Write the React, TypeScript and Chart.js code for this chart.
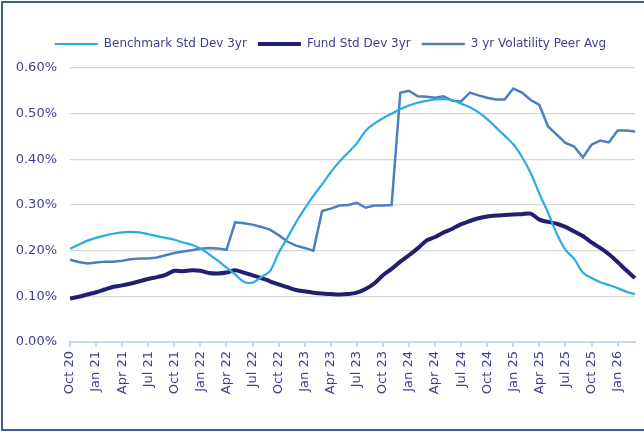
import React, { useEffect, useRef } from 'react';
import { Chart, registerables } from 'chart.js';
Chart.register(...registerables);

const monthLabels: string[] = [
  'Oct 20', 'Nov 20', 'Dec 20',
  'Jan 21', 'Feb 21', 'Mar 21', 'Apr 21', 'May 21', 'Jun 21', 'Jul 21', 'Aug 21', 'Sep 21', 'Oct 21', 'Nov 21', 'Dec 21',
  'Jan 22', 'Feb 22', 'Mar 22', 'Apr 22', 'May 22', 'Jun 22', 'Jul 22', 'Aug 22', 'Sep 22', 'Oct 22', 'Nov 22', 'Dec 22',
  'Jan 23', 'Feb 23', 'Mar 23', 'Apr 23', 'May 23', 'Jun 23', 'Jul 23', 'Aug 23', 'Sep 23', 'Oct 23', 'Nov 23', 'Dec 23',
  'Jan 24', 'Feb 24', 'Mar 24', 'Apr 24', 'May 24', 'Jun 24', 'Jul 24', 'Aug 24', 'Sep 24', 'Oct 24', 'Nov 24', 'Dec 24',
  'Jan 25', 'Feb 25', 'Mar 25', 'Apr 25', 'May 25', 'Jun 25', 'Jul 25', 'Aug 25', 'Sep 25', 'Oct 25', 'Nov 25', 'Dec 25',
  'Jan 26', 'Feb 26', 'Mar 26',
];

const seriesNames: string[] = ['Benchmark Std Dev 3yr', 'Fund Std Dev 3yr', '3 yr Volatility Peer Avg'];

const benchmarkStdDev: number[] = [
  0.204, 0.213, 0.222,
  0.228, 0.233, 0.237, 0.240, 0.241, 0.240, 0.236, 0.232, 0.228, 0.224, 0.218, 0.213,
  0.205, 0.192, 0.178, 0.163, 0.148, 0.132, 0.130, 0.142, 0.155, 0.195, 0.228, 0.262,
  0.292, 0.320, 0.345, 0.372, 0.395, 0.415, 0.435, 0.462, 0.478, 0.490, 0.500, 0.510,
  0.518, 0.524, 0.528, 0.531, 0.532, 0.530, 0.522, 0.514, 0.503, 0.488, 0.470, 0.452,
  0.433, 0.405, 0.370, 0.325, 0.283, 0.237, 0.202, 0.182, 0.152, 0.140, 0.131, 0.125,
  0.118, 0.110, 0.105,
];

const fundStdDev: number[] = [
  0.095, 0.099, 0.104,
  0.109, 0.115, 0.121, 0.124, 0.128, 0.133, 0.138, 0.142, 0.147, 0.156, 0.155, 0.157,
  0.156, 0.151, 0.150, 0.152, 0.157, 0.152, 0.146, 0.140, 0.133, 0.126, 0.120, 0.114,
  0.111, 0.108, 0.106, 0.105, 0.104, 0.105, 0.108, 0.116, 0.128, 0.146, 0.160, 0.176,
  0.190, 0.205, 0.222, 0.230, 0.240, 0.248, 0.258, 0.265, 0.271, 0.275, 0.277, 0.278,
  0.279, 0.280, 0.281, 0.268, 0.263, 0.259, 0.252, 0.242, 0.232, 0.218, 0.206, 0.192,
  0.175, 0.157, 0.140,
];

const peerAvgVolatility: number[] = [
  0.180, 0.175, 0.172,
  0.174, 0.176, 0.176, 0.178, 0.181, 0.183, 0.183, 0.185, 0.190, 0.195, 0.198, 0.201,
  0.204, 0.206, 0.205, 0.202, 0.262, 0.260, 0.257, 0.252, 0.246, 0.234, 0.220, 0.211,
  0.206, 0.200, 0.287, 0.292, 0.299, 0.300, 0.305, 0.294, 0.299, 0.299, 0.300, 0.546,
  0.550, 0.538, 0.537, 0.535, 0.538, 0.528, 0.527, 0.546, 0.540, 0.535, 0.531, 0.531,
  0.555, 0.546, 0.530, 0.519, 0.472, 0.454, 0.436, 0.428, 0.404, 0.432, 0.441, 0.437,
  0.463, 0.463, 0.461,
];

const yTickValues: number[] = [0, 0.1, 0.2, 0.3, 0.4, 0.5, 0.6];

const TEXT_COLOR = '#3f3f8f';
const FONT = '"DejaVu Sans", sans-serif';

export default function App() {
  const canvasRef = useRef<HTMLCanvasElement | null>(null);

  useEffect(() => {
    if (!canvasRef.current) return;
    const legendSpacing = {
      id: 'legendSpacing',
      beforeInit(chart: any) {
        const orig = chart.legend.fit;
        chart.legend.fit = function () {
          orig.call(this);
          this.height += 8;
        };
      },
      afterLayout(chart: any) {
        chart.legend.left += 13;
        chart.legend.right += 13;
      },
    };
    const chart = new Chart(canvasRef.current, {
      type: 'line',
      data: {
        labels: monthLabels,
        datasets: [
          {
            label: seriesNames[0],
            data: benchmarkStdDev,
            borderColor: '#2aabe2',
            backgroundColor: '#2aabe2',
            borderWidth: 2.2,
            pointRadius: 0,
            tension: 0.3,
          },
          {
            label: seriesNames[1],
            data: fundStdDev,
            borderColor: '#221f6e',
            backgroundColor: '#221f6e',
            borderWidth: 4,
            pointRadius: 0,
            tension: 0.3,
          },
          {
            label: seriesNames[2],
            data: peerAvgVolatility,
            borderColor: '#4a7fc0',
            backgroundColor: '#4a7fc0',
            borderWidth: 2.5,
            pointRadius: 0,
            tension: 0,
          },
        ],
      },
      options: {
        responsive: false,
        animation: false,
        devicePixelRatio: 1,
        layout: { padding: { left: 0, right: 9, top: 27, bottom: 0 } },
        plugins: {
          tooltip: { enabled: false },
          legend: {
            position: 'top',
            labels: {
              usePointStyle: true,
              pointStyle: 'line',
              pointStyleWidth: 43,
              padding: 11,
              color: TEXT_COLOR,
              font: { family: FONT, size: 12 },
            },
          },
        },
        scales: {
          x: {
            type: 'category',
            offset: false,
            afterFit: (scale: any) => {
              scale.height = 90;
              scale.paddingLeft = 0;
              scale.paddingRight = 0;
            },
            border: { display: true, color: '#c6d9f0', width: 2 },
            grid: {
              display: true,
              drawOnChartArea: false,
              drawTicks: true,
              tickLength: 5,
              color: '#c6d9f0',
              lineWidth: 2,
            },
            ticks: {
              autoSkip: false,
              maxRotation: 90,
              minRotation: 90,
              padding: 4,
              color: TEXT_COLOR,
              font: { family: FONT, size: 13 },
              callback: (_v: any, index: number) => (index % 3 === 0 ? monthLabels[index] : null),
            },
          },
          y: {
            min: 0,
            max: 0.6,
            afterFit: (scale: any) => {
              scale.width = 70;
              scale.paddingTop = 0;
              scale.paddingBottom = 0;
            },
            afterBuildTicks: (scale: any) => {
              scale.ticks = yTickValues.map((v) => ({ value: v }));
            },
            border: { display: false },
            grid: {
              drawTicks: false,
              color: (ctx: any) => (ctx.tick && ctx.tick.value === 0 ? 'rgba(0,0,0,0)' : '#d6d6d6'),
              lineWidth: 1.3,
            },
            ticks: {
              padding: 13,
              color: TEXT_COLOR,
              font: { family: FONT, size: 13 },
              callback: (v: any) => Number(v).toFixed(2) + '%',
            },
          },
        },
      },
      plugins: [legendSpacing],
    });
    return () => chart.destroy();
  }, []);

  return (
    <div style={{ position: 'fixed', left: 0, top: 0, width: 644, height: 432, background: '#ffffff', overflow: 'hidden' }}>
      <canvas ref={canvasRef} width={644} height={432} style={{ display: 'block' }} />
      <div
        style={{
          position: 'absolute',
          left: 1,
          top: 1,
          width: 700,
          height: 430,
          boxSizing: 'border-box',
          border: '2px solid #3e5b9a',
          pointerEvents: 'none',
        }}
      />
    </div>
  );
}
